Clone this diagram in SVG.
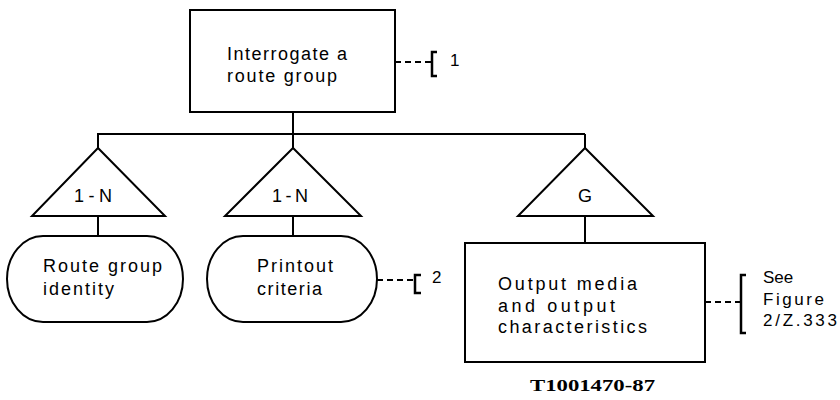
<svg xmlns="http://www.w3.org/2000/svg" width="840" height="400" viewBox="0 0 840 400">
<style>
.s{fill:none;stroke:#000;stroke-width:2}
.d{fill:none;stroke:#000;stroke-width:1.8;stroke-dasharray:6 4}
.b{fill:none;stroke:#000;stroke-width:2.5}
.t{font-family:"Liberation Sans",Arial,sans-serif;font-size:18px;fill:#000}
.n{font-family:"Liberation Sans",Arial,sans-serif;font-size:17px;fill:#000}
.f{font-family:"Liberation Serif","Times New Roman",serif;font-size:16px;font-weight:bold;fill:#000}
</style>
<rect width="840" height="400" fill="#fff"/>
<g id="connectors">
<path class="s" d="M293,112 V134 M97,134 H585 M98,134 V148 M293,134 V148 M585,134 V148 M98,216 V236 M293,216 V236 M585,216 V243"/>
<path class="d" d="M395,62 H432"/>
<path class="d" d="M377,280 H415"/>
<path class="d" d="M705,302 H741"/>
</g>
<g id="root">
<rect class="s" x="190" y="10" width="205" height="102"/>
<text class="t" x="227" y="60" textLength="120" lengthAdjust="spacing">Interrogate a</text>
<text class="t" x="227" y="82" textLength="110" lengthAdjust="spacing">route group</text>
</g>
<g id="note1">
<path class="b" d="M437,52 H432 V76 H437"/>
<text class="n" x="450" y="66">1</text>
</g>
<g id="tri1">
<polygon class="s" points="98,148 32,216 165,216"/>
<text class="t" x="93" y="202" text-anchor="middle" textLength="38" lengthAdjust="spacing">1-N</text>
</g>
<g id="tri2">
<polygon class="s" points="293,148 225,216 361,216"/>
<text class="t" x="290" y="202" text-anchor="middle" textLength="36" lengthAdjust="spacing">1-N</text>
</g>
<g id="tri3">
<polygon class="s" points="585,148 518,216 653,216"/>
<text class="t" x="585" y="202" text-anchor="middle">G</text>
</g>
<g id="routeGroupIdentity">
<rect class="s" x="7" y="236" width="176" height="86" rx="36" ry="43"/>
<text class="t" x="43" y="272" textLength="119" lengthAdjust="spacing">Route group</text>
<text class="t" x="43" y="295" textLength="71" lengthAdjust="spacing">identity</text>
</g>
<g id="printoutCriteria">
<rect class="s" x="207" y="236" width="170" height="86" rx="36" ry="43"/>
<text class="t" x="257" y="272" textLength="76" lengthAdjust="spacing">Printout</text>
<text class="t" x="257" y="295" textLength="65" lengthAdjust="spacing">criteria</text>
</g>
<g id="note2">
<path class="b" d="M421,275 H415 V293 H421"/>
<text class="n" x="432" y="283" font-size="14">2</text>
</g>
<g id="outputMedia">
<rect class="s" x="465" y="243" width="240" height="119"/>
<text class="t" x="498" y="290" textLength="139" lengthAdjust="spacing">Output media</text>
<text class="t" x="498" y="312" textLength="117" lengthAdjust="spacing">and output</text>
<text class="t" x="498" y="333" textLength="149" lengthAdjust="spacing">characteristics</text>
</g>
<g id="note3">
<path class="b" d="M746,275 H741 V333 H746"/>
<text class="n" x="763" y="283">See</text>
<text class="n" x="763" y="305" textLength="61" lengthAdjust="spacing">Figure</text>
<text class="n" x="763" y="326" textLength="74" lengthAdjust="spacing">2/Z.333</text>
</g>
<text class="f" x="530" y="391" textLength="125" lengthAdjust="spacingAndGlyphs">T1001470-87</text>
</svg>
